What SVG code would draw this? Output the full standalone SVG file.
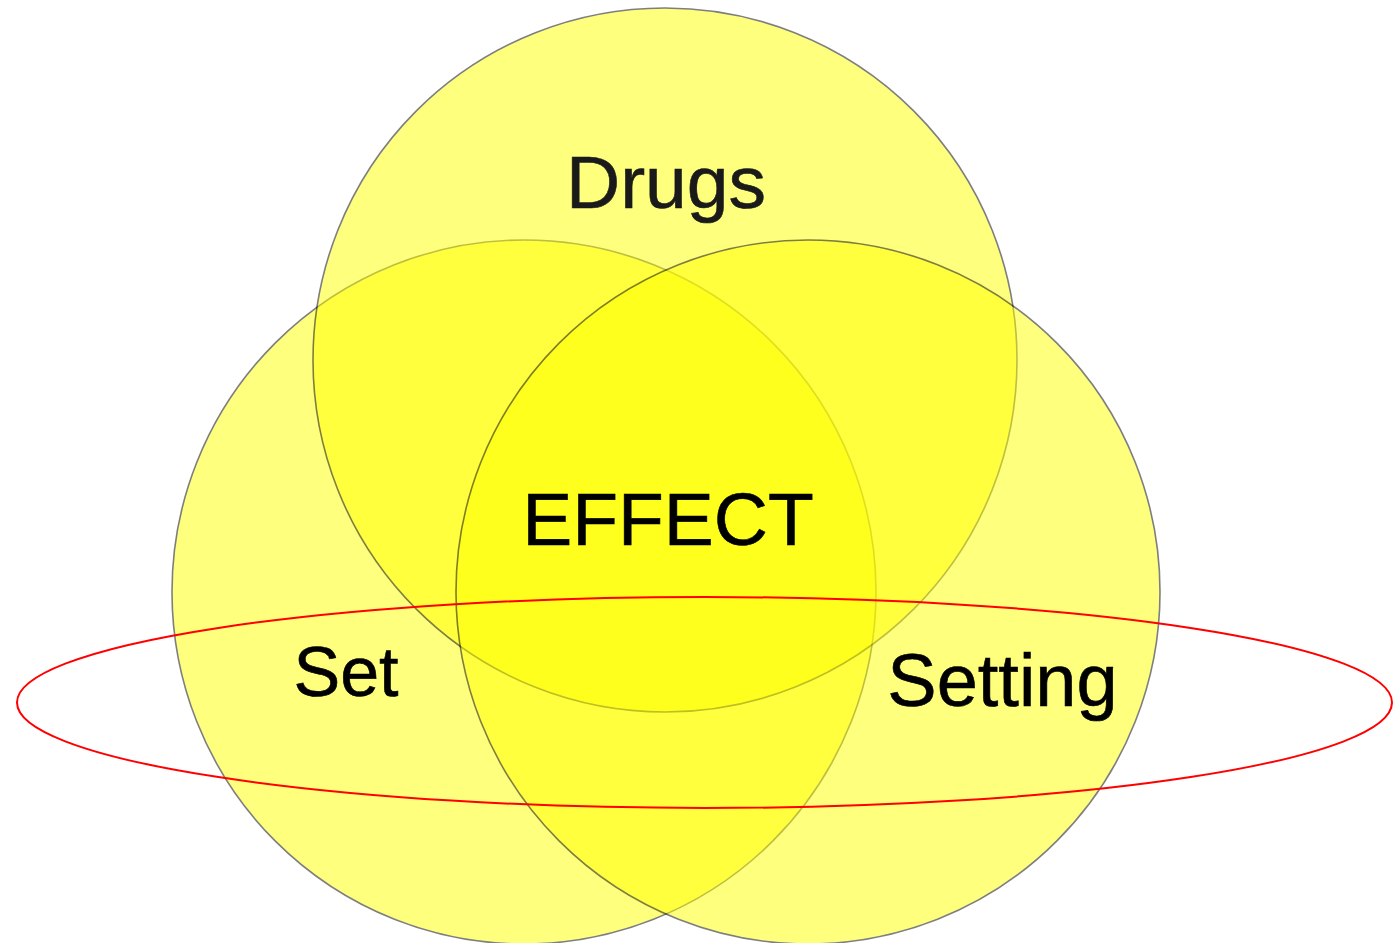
<svg xmlns="http://www.w3.org/2000/svg" width="1393" height="943" viewBox="0 0 1393 943">
<style>
.c{fill:#ffff00;stroke:#000000;stroke-width:1.6;opacity:0.5}
.t{font-family:"Liberation Sans",Arial,sans-serif;text-anchor:middle;stroke-width:0.6}
</style>
<rect width="1393" height="943" fill="#ffffff"/>
<g id="set"><circle class="c" cx="524" cy="592" r="352"/></g>
<g id="drugs"><circle class="c" cx="665" cy="360" r="352"/></g>
<g id="setting"><circle class="c" cx="808" cy="592" r="352"/></g>
<g id="labels">
<text class="t" x="666" y="208" font-size="75" fill="#1a1a1a" stroke="#1a1a1a">Drugs</text>
<text class="t" x="668" y="545" font-size="75" fill="#000" stroke="#000">EFFECT</text>
<text class="t" x="346" y="696" font-size="70" fill="#000" stroke="#000">Set</text>
<text class="t" x="1002.5" y="706" font-size="74" fill="#000" stroke="#000">Setting</text>
</g>
<g id="connectors">
<ellipse cx="704.5" cy="702.5" rx="687.5" ry="105.5" fill="none" stroke="#ff0000" stroke-width="2"/>
</g>
</svg>
